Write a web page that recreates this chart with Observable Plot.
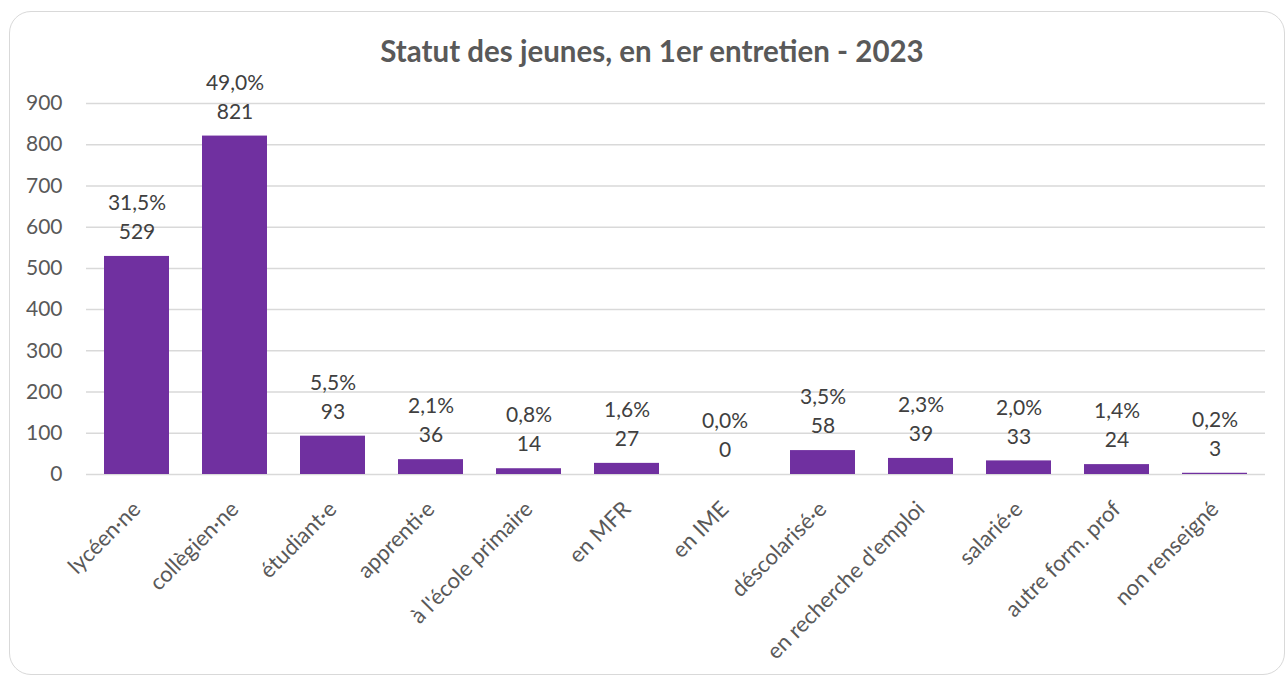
<!DOCTYPE html>
<html><head><meta charset="utf-8">
<script src="https://cdn.jsdelivr.net/npm/d3@7"></script>
<script src="https://cdn.jsdelivr.net/npm/@observablehq/plot@0.6"></script>
<style>
html,body{margin:0;padding:0;background:#fff;}
#frame{position:absolute;left:9px;top:11px;width:1276px;height:664px;border:1.5px solid #d9d9d9;border-radius:22px;box-sizing:border-box;}
#title{position:absolute;left:0;width:1304px;top:33px;text-align:center;font-family:Lato,"Noto Sans",sans-serif;font-weight:bold;font-size:29.5px;color:#595959;line-height:36px;}
#chart{position:absolute;left:0;top:70px;}
</style></head>
<body>
<div id="frame"></div>
<div id="title">Statut des jeunes, en 1er entretien - 2023</div>
<div id="chart"></div>
<script>
const categories = ["lycéen·ne","collègien·ne","étudiant·e","apprenti·e","à l'école primaire","en MFR","en IME","déscolarisé·e","en recherche d'emploi","salarié·e","autre form. prof","non renseigné"];
const counts = [529, 821, 93, 36, 14, 27, 0, 58, 39, 33, 24, 3];
const percents = [31.5, 49.0, 5.5, 2.1, 0.8, 1.6, 0.0, 3.5, 2.3, 2.0, 1.4, 0.2];
const yTicks = [0,100,200,300,400,500,600,700,800,900];

const data = categories.map((c,i)=>({cat:c, n:counts[i], pct:percents[i]}));
const fmtPct = v => v.toFixed(1).replace(".", ",") + "%";
const font = "Lato, 'Noto Sans', sans-serif";

const plot = Plot.plot({
  width: 1287, height: 600,
  marginLeft: 86, marginRight: 22, marginTop: 33, marginBottom: 196,
  style: {background: "transparent", fontFamily: font, fontSize: "21px", color: "#595959"},
  x: {domain: categories, paddingInner: 0.333, paddingOuter: 0.1667, label: null},
  y: {domain: [0, 900], label: null},
  marks: [
    Plot.gridY(yTicks, {stroke: "#d9d9d9", strokeOpacity: 1, strokeWidth: 1.5}),
    Plot.axisY(yTicks, {tickSize: 0, tickPadding: 24, label: null, fontSize: 21, fill: "#595959"}),
    Plot.axisX({tickSize: 0, tickPadding: 31, tickRotate: -45, label: null, fontSize: 22, fill: "#595959"}),
    Plot.barY(data, {x: "cat", y: "n", fill: "#7030a0"}),
    Plot.text(data, {x: "cat", y: "n", text: d => String(d.n), dy: -24, fontSize: 21, fill: "#404040"}),
    Plot.text(data, {x: "cat", y: "n", text: d => fmtPct(d.pct), dy: -53, fontSize: 21, fill: "#404040"})
  ]
});
document.getElementById("chart").appendChild(plot);
</script>
</body></html>
